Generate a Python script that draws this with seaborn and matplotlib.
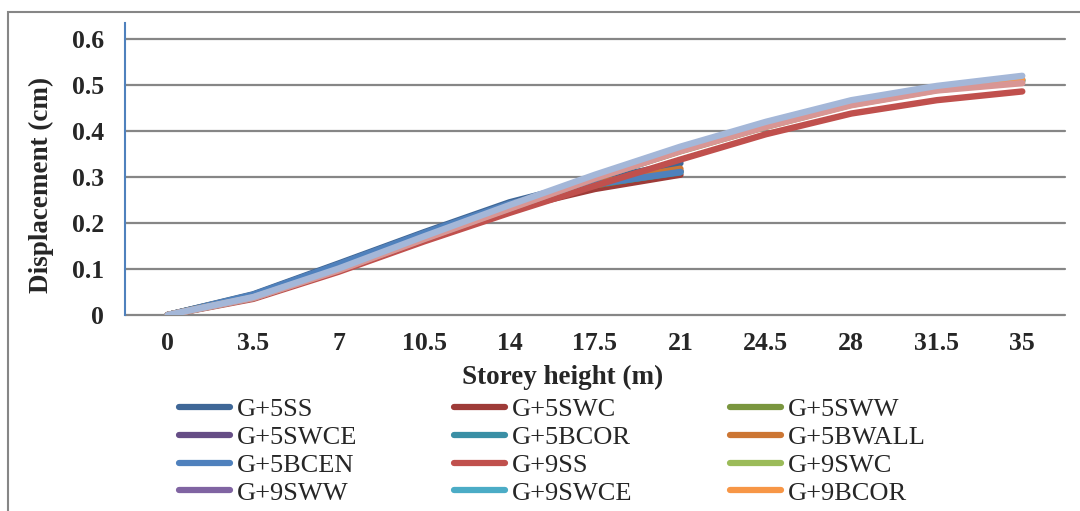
import matplotlib
matplotlib.use("Agg")
import matplotlib.pyplot as plt
import seaborn as sns
import pandas as pd
from matplotlib.lines import Line2D
from matplotlib.patches import Rectangle

# ---------------- data ----------------
storey_labels = ["0", "3.5", "7", "10.5", "14", "17.5", "21", "24.5", "28", "31.5", "35"]

series_names = ["G+5SS", "G+5SWC", "G+5SWW", "G+5SWCE", "G+5BCOR", "G+5BWALL", "G+5BCEN",
                "G+9SS", "G+9SWC", "G+9SWW", "G+9SWCE", "G+9BCOR", "G+9BWALL", "G+9BCEN"]

g5_ss    = [0, 0.045, 0.112, 0.180, 0.245, 0.293, 0.330]
g5_swc   = [0, 0.040, 0.101, 0.167, 0.230, 0.274, 0.305]
g5_sww   = [0, 0.042, 0.106, 0.174, 0.238, 0.282, 0.312]
g5_swce  = [0, 0.042, 0.106, 0.174, 0.238, 0.283, 0.313]
g5_bcor  = [0, 0.043, 0.108, 0.176, 0.240, 0.284, 0.310]
g5_bwall = [0, 0.043, 0.109, 0.177, 0.241, 0.287, 0.318]
g5_bcen  = [0, 0.044, 0.110, 0.178, 0.242, 0.284, 0.311]

g9_ss    = [0, 0.035, 0.094, 0.160, 0.222, 0.281, 0.338, 0.393, 0.438, 0.467, 0.486]
g9_swc   = [0, 0.037, 0.098, 0.166, 0.232, 0.297, 0.356, 0.409, 0.457, 0.489, 0.508]
g9_sww   = [0, 0.037, 0.098, 0.166, 0.232, 0.297, 0.357, 0.410, 0.458, 0.490, 0.510]
g9_swce  = [0, 0.038, 0.099, 0.167, 0.233, 0.298, 0.358, 0.411, 0.459, 0.491, 0.511]
g9_bcor  = [0, 0.038, 0.099, 0.168, 0.235, 0.300, 0.360, 0.413, 0.461, 0.493, 0.512]
g9_bwall = [0, 0.037, 0.097, 0.165, 0.231, 0.297, 0.356, 0.409, 0.456, 0.488, 0.504]
g9_bcen  = [0, 0.039, 0.101, 0.171, 0.239, 0.305, 0.366, 0.420, 0.467, 0.498, 0.520]

series_values = [g5_ss, g5_swc, g5_sww, g5_swce, g5_bcor, g5_bwall, g5_bcen,
                 g9_ss, g9_swc, g9_sww, g9_swce, g9_bcor, g9_bwall, g9_bcen]

colors = ["#3F6797", "#9E3B38", "#7A963F", "#664E86", "#3A8FA5", "#CC7634", "#4F81BD",
          "#C0504D", "#9BBB59", "#8064A2", "#4BACC6", "#F79646", "#D99694", "#A4B7D8"]

# legend entries visible in the reference (the last row is cut off by the frame)
legend_count = 12

y_ticks = [0, 0.1, 0.2, 0.3, 0.4, 0.5, 0.6]
y_tick_labels = ["0", "0.1", "0.2", "0.3", "0.4", "0.5", "0.6"]

# ---------------- style ----------------
sns.set_style("white")
plt.rcParams['font.family'] = ['Liberation Serif', 'DejaVu Serif']

W, H = 1080, 511
fig = plt.figure(figsize=(W / 100, H / 100), dpi=100)
ax = fig.add_axes([125 / W, 1 - 315 / H, 940 / W, 292 / H])

rows = []
for name, vals in zip(series_names, series_values):
    for i, v in enumerate(vals):
        rows.append({"series": name, "pos": i, "disp": v})
df = pd.DataFrame(rows)

sns.lineplot(data=df, x="pos", y="disp", hue="series", hue_order=series_names,
             palette=colors, linewidth=4.6, legend=False, ax=ax,
             sort=False, estimator=None)
for ln in ax.lines:
    ln.set_solid_capstyle('round')
    ln.set_solid_joinstyle('round')
    ln.set_zorder(3)

ax.set_xlim(-0.5, len(storey_labels) - 0.5)
ax.set_ylim(0, 0.6348)
ax.set_xticks(range(len(storey_labels)))
ax.set_xticklabels(storey_labels)
ax.set_yticks(y_ticks)
ax.set_yticklabels(y_tick_labels)
for yv in y_ticks:
    ax.axhline(yv, color="#868686", lw=1.6, zorder=1, clip_on=False)

for s in ["top", "right", "bottom"]:
    ax.spines[s].set_visible(False)
ax.spines["left"].set_color("#4F81BD")
ax.spines["left"].set_linewidth(1.5)
ax.spines["left"].set_zorder(4)

ax.tick_params(axis="both", length=0, labelsize=18.5)
ax.tick_params(axis="y", pad=15)
ax.tick_params(axis="x", pad=12)
for t in ax.get_xticklabels() + ax.get_yticklabels():
    t.set_fontweight("bold")

ax.set_xlabel("Storey height (m)", fontsize=19.5, fontweight="bold")
ax.set_ylabel("Displacement (cm)", fontsize=19.5, fontweight="bold")
ax.xaxis.set_label_coords((563 - 125) / 940, (315 - 377) / 292)
ax.xaxis.label.set_va("center")
ax.yaxis.set_label_coords((41 - 125) / 940, (315 - 185) / 292)
ax.yaxis.label.set_va("center")

# outer chart frame (partially cut off)
fig.patches.append(Rectangle((8 / W, -0.2), 1.3, 1 - 12 / H + 0.2,
                             transform=fig.transFigure, fill=False,
                             ec="#868686", lw=1.5, zorder=0))

# legend: three columns, row-major order
handles = [Line2D([0], [0], color=c, lw=4.5, solid_capstyle='round') for c in colors]
col_x = [179, 454, 730]
for ci in range(3):
    idx = list(range(ci, legend_count, 3))
    fig.legend([handles[i] for i in idx], [series_names[i] for i in idx],
               loc="upper left", bbox_to_anchor=(col_x[ci] / W, 1 - 398 / H),
               frameon=False, fontsize=19, handlelength=1.95,
               handletextpad=0.25, labelspacing=0.16, borderpad=0,
               borderaxespad=0)

fig.savefig("out.png", dpi=100)
